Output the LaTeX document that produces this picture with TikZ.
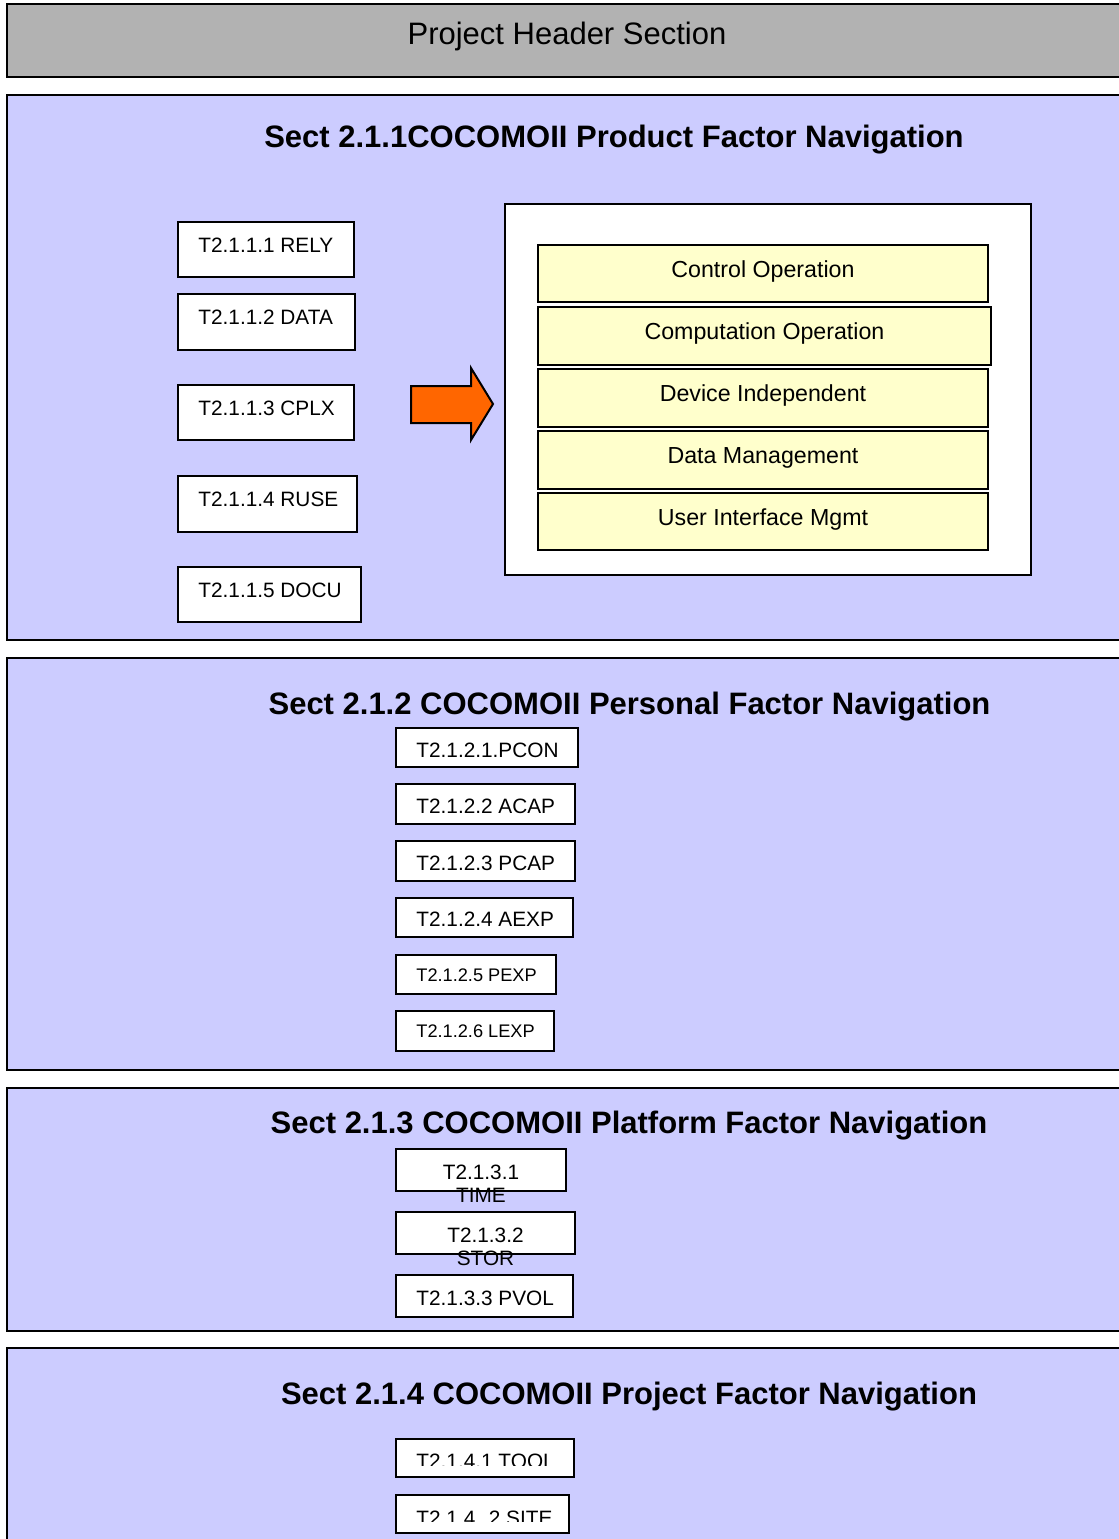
\documentclass[tikz,border=0pt]{standalone}
\usepackage{fontspec}
\setmainfont{Liberation Sans}
\definecolor{headgray}{HTML}{B2B2B2}
\definecolor{panel}{HTML}{CCCCFF}
\definecolor{pale}{HTML}{FFFFCC}
\definecolor{orangearrow}{HTML}{FF6600}

% rectangle node from its top-left (x1,y1) to its bottom-right (x2,y2)
\newcommand\rectnode[6]{%
  \node[#1, anchor=north west, minimum width={(#5-#3)*0.5pt},
        minimum height={(#6-#4)*0.5pt}] (#2) at (#3,#4) {};}

\tikzset{
  edge/.style={draw=black, line width=1pt, inner sep=0pt, outer sep=0pt},
  headbar/.style={edge, fill=headgray},
  panelbox/.style={edge, fill=panel},
  whitebox/.style={edge, fill=white},
  itembox/.style={edge, fill=white},
  typebox/.style={edge, fill=pale},
  headtext/.style={inner sep=0pt, anchor=base, font=\fontsize{15.5}{18}\selectfont},
  titletext/.style={inner sep=0pt, anchor=base, font=\bfseries\fontsize{15.5}{18}\selectfont},
  itemtext/.style={inner sep=0pt, anchor=base west, font=\fontsize{10.4}{11.5}\selectfont},
  smalltext/.style={inner sep=0pt, anchor=base west, font=\fontsize{9.1}{11}\selectfont},
  splittext/.style={inner sep=0pt, anchor=base, font=\fontsize{10.4}{11.5}\selectfont},
  typetext/.style={inner sep=0pt, anchor=base, font=\fontsize{11.6}{13}\selectfont},
}

\begin{document}
\begin{tikzpicture}[x=0.5pt, y=-0.5pt]
\clip (0,0) rectangle (1119,1539);
\fill[white] (0,0) rectangle (1119,1539);

% header bar
\rectnode{headbar}{header}{7}{4}{1135}{77}
\node[headtext] (headerlbl) at (567,44) {Project Header Section};

% ---------- section 2.1.1 ----------
\rectnode{panelbox}{secA}{7}{95}{1135}{640}
\node[titletext] (secAtitle) at (614,147) {Sect 2.1.1COCOMOII Product Factor Navigation};

\rectnode{itembox}{rely}{178}{222}{354}{277}
\node[itemtext] (relylbl) at (198,252) {T2.1.1.1 RELY};
\rectnode{itembox}{data}{178}{294}{355}{350}
\node[itemtext] (datalbl) at (198,324) {T2.1.1.2 DATA};
\rectnode{itembox}{cplx}{178}{385}{354}{440}
\node[itemtext] (cplxlbl) at (198,415) {T2.1.1.3 CPLX};
\rectnode{itembox}{ruse}{178}{476}{357}{532}
\node[itemtext] (ruselbl) at (198,506) {T2.1.1.4 RUSE};
\rectnode{itembox}{docu}{178}{567}{361}{622}
\node[itemtext] (doculbl) at (198,597) {T2.1.1.5 DOCU};

% block arrow
\draw[line width=1pt, fill=orangearrow, line join=miter]
  (411,386) -- (471,386) -- (471,368) -- (493,404) -- (471,440)
  -- (471,423) -- (411,423) -- cycle;

\rectnode{whitebox}{apptypes}{505}{204}{1031}{575}
\rectnode{typebox}{ctrl}{538}{245}{988}{302}
\node[typetext] (ctrllbl) at (763,277) {Control Operation};
\rectnode{typebox}{comp}{538}{307}{991}{365}
\node[typetext] (complbl) at (764.5,339) {Computation Operation};
\rectnode{typebox}{devi}{538}{369}{988}{427}
\node[typetext] (devilbl) at (763,401) {Device Independent};
\rectnode{typebox}{dmgt}{538}{431}{988}{489}
\node[typetext] (dmgtlbl) at (763,463) {Data Management};
\rectnode{typebox}{uimg}{538}{493}{988}{550}
\node[typetext] (uimglbl) at (763,525) {User Interface Mgmt};

% ---------- section 2.1.2 ----------
\rectnode{panelbox}{secB}{7}{658}{1135}{1070}
\node[titletext] (secBtitle) at (629.5,714) {Sect 2.1.2 COCOMOII Personal Factor Navigation};

\rectnode{itembox}{pcon}{396}{728}{578}{767}
\node[itemtext] (pconlbl) at (416,757) {T2.1.2.1.PCON};
\rectnode{itembox}{acap}{396}{784}{575}{824}
\node[itemtext] (acaplbl) at (416,813) {T2.1.2.2 ACAP};
\rectnode{itembox}{pcap}{396}{841}{575}{881}
\node[itemtext] (pcaplbl) at (416,870) {T2.1.2.3 PCAP};
\rectnode{itembox}{aexp}{396}{898}{573}{937}
\node[itemtext] (aexplbl) at (416,926) {T2.1.2.4 AEXP};
\rectnode{itembox}{pexp}{396}{955}{556}{994}
\node[smalltext] (pexplbl) at (416,981.5) {T2.1.2.5 PEXP};
\rectnode{itembox}{lexp}{396}{1011}{554}{1051}
\node[smalltext] (lexplbl) at (416,1037.5) {T2.1.2.6 LEXP};

% ---------- section 2.1.3 ----------
\rectnode{panelbox}{secC}{7}{1088}{1135}{1331}
\node[titletext] (secCtitle) at (629,1133) {Sect 2.1.3 COCOMOII Platform Factor Navigation};

\rectnode{itembox}{time}{396}{1149}{566}{1191}
\node[splittext] (timelblA) at (481,1179) {T2.1.3.1};
\node[splittext] (timelblB) at (481,1202) {TIME};
\rectnode{itembox}{stor}{396}{1212}{575}{1254}
\node[splittext] (storlblA) at (485.5,1242) {T2.1.3.2};
\node[splittext] (storlblB) at (485.5,1265) {STOR};
\rectnode{itembox}{pvol}{396}{1275}{573}{1317}
\node[itemtext] (pvollbl) at (416,1305) {T2.1.3.3 PVOL};

% ---------- section 2.1.4 ----------
\rectnode{panelbox}{secD}{7}{1348}{1135}{1580}
\node[titletext] (secDtitle) at (629,1404) {Sect 2.1.4 COCOMOII Project Factor Navigation};

\rectnode{itembox}{tool}{396}{1439}{574}{1477}
\begin{scope}
  \clip (396,1439) rectangle (574,1465);
  \node[itemtext] (toollbl) at (416,1468) {T2.1.4.1 TOOL};
\end{scope}
\rectnode{itembox}{site}{396}{1495}{569}{1533}
\begin{scope}
  \clip (396,1495) rectangle (569,1521);
  \node[itemtext] (sitelbl) at (416,1525) {T2.1.4. 2 SITE};
\end{scope}
\end{tikzpicture}
\end{document}
